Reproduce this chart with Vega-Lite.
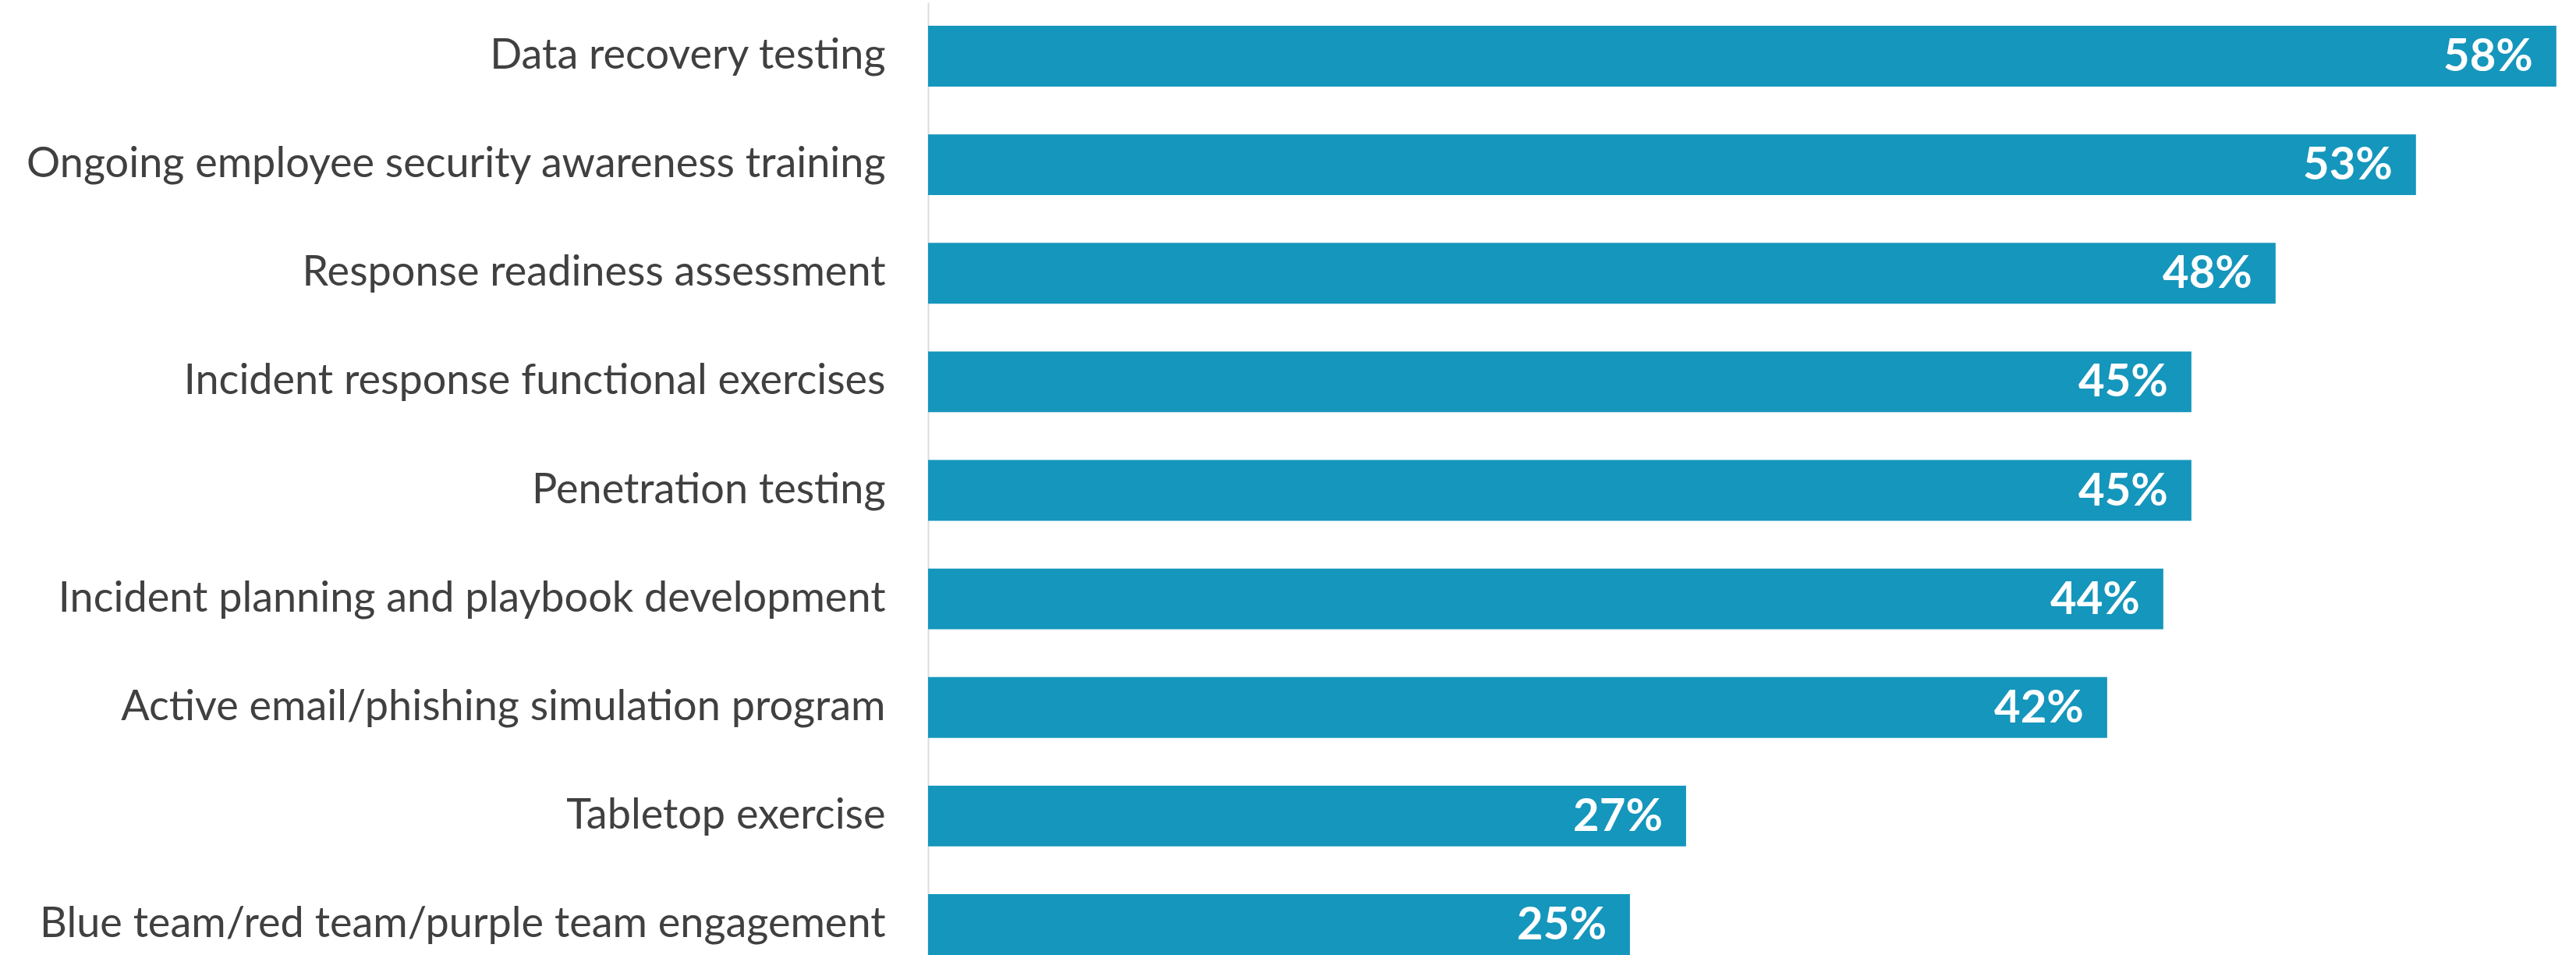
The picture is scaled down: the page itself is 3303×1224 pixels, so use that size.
{
  "$schema": "https://vega.github.io/schema/vega-lite/v6.json",
  "autosize": {"type": "none"},
  "width": 2113,
  "height": 1221,
  "padding": {"left": 1190, "top": 3, "right": 0, "bottom": 0},
  "background": "white",
  "config": {"view": {"stroke": null}, "font": "Lato"},
  "data": {"values": [
    {"item": "Data recovery testing", "pct": 0.58},
    {"item": "Ongoing employee security awareness training", "pct": 0.53},
    {"item": "Response readiness assessment", "pct": 0.48},
    {"item": "Incident response functional exercises", "pct": 0.45},
    {"item": "Penetration testing", "pct": 0.45},
    {"item": "Incident planning and playbook development", "pct": 0.44},
    {"item": "Active email/phishing simulation program", "pct": 0.42},
    {"item": "Tabletop exercise", "pct": 0.27},
    {"item": "Blue team/red team/purple team engagement", "pct": 0.25}
  ]},
  "encoding": {
    "y": {
      "field": "item", "type": "nominal", "sort": null,
      "scale": {"paddingInner": 0.44, "paddingOuter": 0.108, "align": 1},
      "axis": {"title": null, "ticks": false, "domain": true, "domainColor": "#dcdcdc", "domainWidth": 2,
               "labelFontSize": 54, "labelColor": "#404040", "labelPadding": 55, "labelLimit": 2000, "labelFont": "Lato"}
    },
    "x": {"field": "pct", "type": "quantitative", "scale": {"domain": [0, 0.587]}, "axis": null}
  },
  "layer": [
    {"mark": {"type": "bar", "color": "#1596bc"}},
    {"mark": {"type": "text", "align": "right", "baseline": "middle", "dx": -30, "dy": 2, "color": "white", "fontSize": 58, "fontWeight": "bold", "font": "Lato"},
     "encoding": {"text": {"field": "pct", "type": "quantitative", "format": ".0%"}}}
  ]
}
